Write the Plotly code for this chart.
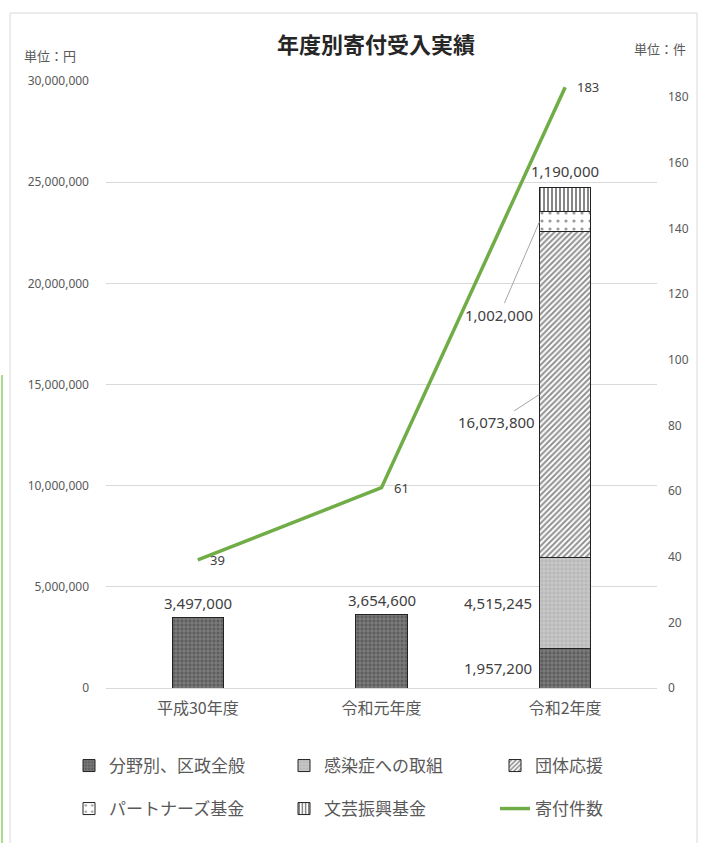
import plotly.graph_objects as go

categories = ["平成30年度", "令和元年度", "令和2年度"]
general = [3497000, 3654600, 1957200]
covid = [None, None, 4515245]
groups = [None, None, 16073800]
partners = [None, None, 1002000]
bungei = [None, None, 1190000]
counts = [39, 61, 183]

series_names = ["分野別、区政全般", "感染症への取組", "団体応援", "パートナーズ基金", "文芸振興基金"]
count_name = "寄付件数"

W, H = 702, 843
ML, MR, MT, MB = 106, 45, 81, 155
PW, PH = W - ML - MR, H - MT - MB

def px_x(x):
    return (x - ML) / PW

def px_y(y):
    return (H - MB - y) / PH

FONT = "Noto Sans, Noto Sans CJK JP, sans-serif"
CJK = "Noto Sans CJK JP, sans-serif"
TXT = "#595959"
BAR_W = 0.28

styles = [
    dict(shape="+", fgcolor="#b5b5b5", bgcolor="#5e5e5e", size=4, solidity=0.35),
    dict(shape="+", fgcolor="#e6e6e6", bgcolor="#b8b8b8", size=4, solidity=0.35),
    dict(shape="/", fgcolor="#222222", bgcolor="#ffffff", size=4, solidity=0.5),
    dict(shape=".", fgcolor="#333333", bgcolor="#ffffff", size=8, solidity=0.12),
    dict(shape="|", fgcolor="#111111", bgcolor="#ffffff", size=4, solidity=0.5),
]
values = [general, covid, groups, partners, bungei]
legend_ids = ["legend", "legend2", "legend3", "legend4", "legend5", "legend6"]
legend_pos = [(69, 766), (284, 766), (495, 766), (69, 809), (284, 809), (495, 809)]

fig = go.Figure()
for name, vals, st, lg in zip(series_names, values, styles, legend_ids):
    fig.add_trace(go.Bar(
        x=categories, y=vals, name=name, width=BAR_W, legend=lg, showlegend=True,
        marker=dict(color=st["bgcolor"], line=dict(color="#222222", width=1), pattern=st),
        hoverinfo="skip",
    ))

fig.add_trace(go.Scatter(
    x=categories, y=counts, name=count_name, yaxis="y2", mode="lines", showlegend=True,
    line=dict(color="#70AD47", width=3.5), legend=legend_ids[5],
))

LBL = dict(size=15, color="#404040", family=FONT)
ann = []
for i in range(2):
    ann.append(dict(x=categories[i], y=general[i], xref="x", yref="y", text=f"{general[i]:,}",
                    showarrow=False, yanchor="bottom", yshift=2, font=LBL))
i = 2
left_edge = i - BAR_W / 2
stack = [general[i], covid[i], groups[i], partners[i], bungei[i]]
cum = 0
mids = []
for v in stack:
    mids.append(cum + v / 2)
    cum += v
total = cum
for k in (0, 1):
    ann.append(dict(x=left_edge, y=mids[k], xref="x", yref="y", text=f"{stack[k]:,}",
                    showarrow=False, xanchor="right", xshift=-5, font=LBL))
ann.append(dict(x=left_edge, y=mids[2], xref="x", yref="y", text=f"{stack[2]:,}",
                showarrow=True, arrowhead=0, arrowwidth=1, arrowcolor="#a6a6a6",
                ax=-43, ay=28, font=LBL))
ann.append(dict(x=left_edge, y=mids[3], xref="x", yref="y", text=f"{stack[3]:,}",
                showarrow=True, arrowhead=0, arrowwidth=1, arrowcolor="#a6a6a6",
                ax=-40, ay=93, font=LBL))
ann.append(dict(x=categories[i], y=total, xref="x", yref="y", text=f"{stack[4]:,}",
                showarrow=False, yanchor="bottom", yshift=4, font=LBL))
for c, v in zip(categories, counts):
    ann.append(dict(x=c, y=v, xref="x", yref="y2", text=str(v), showarrow=False,
                    xanchor="left", xshift=10,
                    font=dict(size=13, color="#404040", family=FONT)))
ann.append(dict(x=px_x(22), y=px_y(55), xref="paper", yref="paper", text="単位：円",
                showarrow=False, xanchor="left", yanchor="middle",
                font=dict(size=13, color=TXT, family=CJK)))
ann.append(dict(x=px_x(688), y=px_y(48), xref="paper", yref="paper", text="単位：件",
                showarrow=False, xanchor="right", yanchor="middle",
                font=dict(size=13, color=TXT, family=CJK)))

shapes = [
    dict(type="rect", xref="paper", yref="paper", x0=px_x(10), x1=px_x(697), y0=px_y(850), y1=px_y(13),
         line=dict(color="#d9d9d9", width=1), fillcolor="rgba(0,0,0,0)", layer="below"),
    dict(type="line", xref="paper", yref="paper", x0=px_x(2), x1=px_x(2), y0=px_y(375), y1=px_y(850),
         line=dict(color="#8fcf6a", width=1.5)),
]

layout = dict(
    width=W, height=H,
    margin=dict(l=ML, r=MR, t=MT, b=MB),
    paper_bgcolor="white", plot_bgcolor="white",
    barmode="stack",
    showlegend=True,
    title=dict(text="<b>年度別寄付受入実績</b>", x=376 / W, xref="container", xanchor="center",
               y=1 - 45 / H, yref="container", yanchor="middle",
               font=dict(size=22, color="#262626", family=CJK)),
    font=dict(family=FONT, color=TXT),
    xaxis=dict(showgrid=False, showline=True, linecolor="#d9d9d9", ticks="",
               tickfont=dict(size=16, color=TXT, family=CJK), ticklabelstandoff=6),
    yaxis=dict(range=[0, 30000000], dtick=5000000, tickformat=",", showgrid=True,
               gridcolor="#d9d9d9", zeroline=False, showline=False, ticks="",
               tickfont=dict(size=12, color=TXT), ticklabelstandoff=16),
    yaxis2=dict(range=[0, 184.9], dtick=20, overlaying="y", side="right", showgrid=False,
                zeroline=False, showline=False, ticks="",
                tickfont=dict(size=12, color=TXT), ticklabelstandoff=10),
    annotations=ann,
    shapes=shapes,
    hovermode=False,
)
for lg, (lx, ly) in zip(legend_ids, legend_pos):
    layout[lg] = dict(orientation="h", x=lx / W, xref="container", y=1 - ly / H, yref="container",
                      yanchor="middle", xanchor="left",
                      font=dict(size=17, color=TXT, family=CJK))
fig.update_layout(**layout)

fig.write_html("out.html")
